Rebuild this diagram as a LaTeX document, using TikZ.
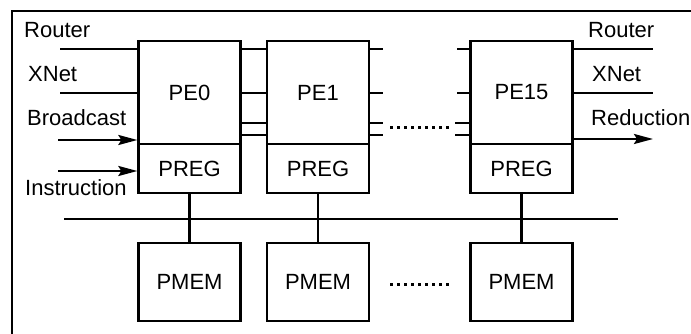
\documentclass[tikz,border=0pt]{standalone}
\usepackage{fontspec}
\setmainfont{Liberation Sans}
\usetikzlibrary{arrows.meta}
\begin{document}
\begin{tikzpicture}[x=1pt,y=-1pt,
  ln/.style={line width=2.3pt},
  blk/.style={draw,line width=2.3pt,minimum width=102pt,inner sep=0pt,font=\fontsize{22}{26}\selectfont},
  pebox/.style={blk,minimum height=103pt},
  regbox/.style={blk,minimum height=49pt},
  membox/.style={blk,minimum height=78pt},
  lbl/.style={anchor=base west,inner sep=0pt,font=\fontsize{22}{26}\selectfont},
  arr/.style={ln,-{Stealth[length=19pt,width=10pt,inset=3pt]}},
  dots/.style={line width=3pt,dash pattern=on 3pt off 4pt}
]
\useasboundingbox (0,0) rectangle (691,334);
% frame
\coordinate (fbl) at (12,334);
\coordinate (ftl) at (12,11);
\coordinate (ftr) at (691,11);
\draw[ln] (fbl) -- (ftl) -- (ftr);

% PEs
\node[pebox] (pe0) at (189.5,92.5) {PE0};
\node[regbox] (r0) at (189.5,168.5) {PREG};
\node[pebox] (pe1) at (318,92.5) {PE1};
\node[regbox] (r1) at (318,168.5) {PREG};
\node[pebox] (pe15) at (521.5,92.5) {PE15};
\node[regbox] (r15) at (521.5,168.5) {PREG};

% PMEMs
\node[membox] (m0) at (189.5,282) {PMEM};
\node[membox] (m1) at (318,282) {PMEM};
\node[membox] (m15) at (521.5,282) {PMEM};

% left labels and inputs
\node[lbl] (lrouter) at (24,38) {Router};
\node[lbl] (lxnet) at (28,82) {XNet};
\node[lbl] (lbroad) at (27,126) {Broadcast};
\node[lbl] (linstr) at (25,195) {Instruction};
\coordinate (inR) at (60,49);
\coordinate (inX) at (60,93);
\coordinate (inB) at (58,140);
\coordinate (inI) at (58,171);
\draw[ln] (inR) -- (pe0.west |- inR);
\draw[ln] (inX) -- (pe0.west |- inX);
\draw[arr] (inB) -- (pe0.west |- inB);
\draw[arr] (inI) -- (pe0.west |- inI);

% right labels and outputs
\node[lbl] (rrouter) at (588,38) {Router};
\node[lbl] (rxnet) at (592,82) {XNet};
\node[lbl] (rred) at (591,126) {Reduction};
\coordinate (outR) at (653,49);
\coordinate (outX) at (653,93);
\coordinate (outD) at (653,139);
\draw[ln] (pe15.east |- outR) -- (outR);
\draw[ln] (pe15.east |- outX) -- (outX);
\draw[arr] (pe15.east |- outD) -- (outD);

% links PE0 - PE1
\foreach \yy in {49,93,123,135}{
  \draw[ln] (pe0.east |- 0,\yy) -- (pe1.west |- 0,\yy);
  \draw[ln] (pe1.east |- 0,\yy) -- (383,\yy);
}
\foreach \yy in {49,93}{
  \draw[ln] (457,\yy) -- (pe15.west |- 0,\yy);
}
\foreach \yy in {123,135}{
  \draw[ln] (455,\yy) -- (pe15.west |- 0,\yy);
}
\coordinate (d1a) at (390,128);
\coordinate (d1b) at (452,128);
\draw[dots] (d1a) -- (d1b);

% bus
\coordinate (busl) at (64,219);
\coordinate (busr) at (618,219);
\draw[ln] (busl) -- (busr);
\draw[ln] (r0.south) -- (m0.north);
\draw[ln] (r1.south) -- (m1.north);
\draw[ln] (r15.south) -- (m15.north);

\coordinate (d2a) at (390,284);
\coordinate (d2b) at (452,284);
\draw[dots] (d2a) -- (d2b);
\end{tikzpicture}
\end{document}
